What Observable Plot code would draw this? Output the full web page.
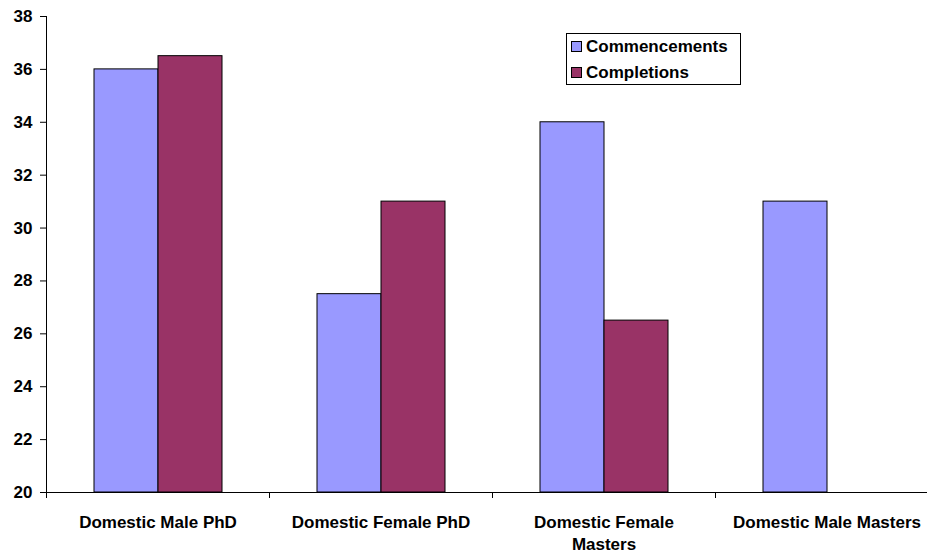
<!DOCTYPE html>
<html>
<head>
<meta charset="utf-8">
<script src="https://cdn.jsdelivr.net/npm/d3@7"></script>
<script src="https://cdn.jsdelivr.net/npm/@observablehq/plot@0.6"></script>
<style>
  html, body { margin: 0; padding: 0; background: #fff; }
  #wrap { position: relative; width: 927px; height: 550px; overflow: hidden; font-family: "Liberation Sans", Arial, sans-serif; }
  #legend { position: absolute; left: 566px; top: 33px; width: 173px; height: 50px; border: 1px solid #000; background: #fff; box-sizing: content-box; }
  .item { position: absolute; left: 4px; font-weight: bold; font-size: 17px; line-height: 20px; color: #000; white-space: nowrap; }
  .sw { display: inline-block; width: 9px; height: 9px; border: 1px solid #000; margin-right: 4px; vertical-align: 0px; }
</style>
</head>
<body>
<div id="wrap"></div>
<script>
const categories = ["Domestic Male PhD", "Domestic Female PhD", "Domestic Female Masters", "Domestic Male Masters"];
const categoryLabels = ["Domestic Male PhD", "Domestic Female PhD", "Domestic Female\nMasters", "Domestic Male Masters"];
const series = ["Commencements", "Completions"];
const commencements = [36, 27.5, 34, 31];
const completions = [36.5, 31, 26.5, null];
const yTicks = [20, 22, 24, 26, 28, 30, 32, 34, 36, 38];
const colors = ["#9999FF", "#993366"];

const table = [];
categories.forEach((c, i) => {
  table.push({category: c, series: series[0], value: commencements[i]});
  table.push({category: c, series: series[1], value: completions[i]});
});
const rows = table.filter(d => d.value != null);
const labelOf = new Map(categories.map((c, i) => [c, categoryLabels[i]]));

const chart = Plot.plot({
  width: 927,
  height: 550,
  marginLeft: 46,
  marginRight: -11,
  marginTop: 16,
  marginBottom: 58,
  style: {fontFamily: "'Liberation Sans', Arial, sans-serif", fontSize: "17px", fontWeight: "bold", color: "#000", background: "#fff"},
  fx: {domain: categories, padding: 0, label: null, axis: null},
  x: {domain: series, paddingInner: 0, paddingOuter: 0.74, axis: null},
  y: {domain: [yTicks[0], yTicks[yTicks.length - 1]], axis: null},
  color: {domain: series, range: colors},
  marks: [
    Plot.barY(rows, {fx: "category", x: "series", y1: yTicks[0], y2: "value", fill: "series", stroke: "#000", strokeWidth: 1}),
    Plot.ruleY([yTicks[0]], {stroke: "#000", strokeWidth: 1}),
    Plot.frame({anchor: "left", facet: "super", stroke: "#000", strokeWidth: 1}),
    Plot.frame({anchor: "left", insetTop: 476, insetBottom: -5, stroke: "#000", strokeWidth: 1}),
    Plot.axisY({ticks: yTicks, tickSize: 6, tickPadding: 8, tickFormat: d => String(d), label: null, stroke: "#000", fill: "#000", fontSize: 17}),
    Plot.axisFx({anchor: "bottom", tickSize: 0, tickPadding: 20, lineHeight: 1.28, tickFormat: d => labelOf.get(d), fill: "#000", label: null, fontSize: 17})
  ]
});
document.getElementById("wrap").appendChild(chart);

const legend = document.createElement("div");
legend.id = "legend";
series.forEach((s, i) => {
  const it = document.createElement("div");
  it.className = "item";
  it.style.top = (3 + i * 26) + "px";
  it.innerHTML = `<span class="sw" style="background:${colors[i]}"></span>${s}`;
  legend.appendChild(it);
});
document.getElementById("wrap").appendChild(legend);
</script>
</body>
</html>
